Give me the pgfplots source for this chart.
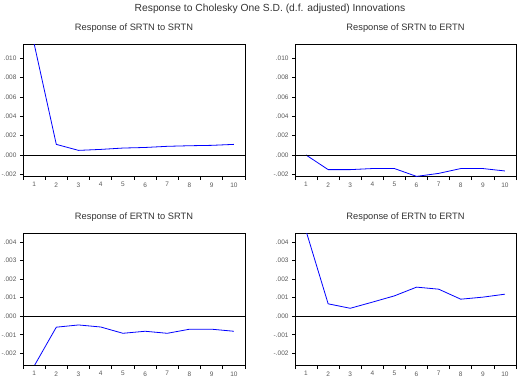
\documentclass[border=0pt]{standalone}
\usepackage{pgfplots}
\pgfplotsset{compat=1.18}
\usepackage{fontspec}
\setmainfont{Liberation Sans}
\definecolor{tickgray}{gray}{0.35}
\definecolor{titlegray}{gray}{0.2}
\pgfplotsset{
 irf/.style={
  scale only axis, width=222bp, height=132bp,
  xmin=0.5, xmax=10.5,
  xtick={1,...,10},
  xticklabels={1,2,3,4,5,6,7,8,9,10},
  minor xtick={0.5,1.5,...,10.5},
  major x tick style={draw=none},
  tick align=outside,
  xtick pos=left, ytick pos=left,
  major tick length=3bp, minor tick length=4bp,
  tick style={black, line width=0.8bp},
  axis line style={black, line width=0.8bp},
  ticklabel style={font=\fontsize{6.5bp}{7bp}\selectfont, text=tickgray},
  /pgf/number format/assume math mode=true,
  scaled y ticks=false,
  clip=true,
 },
 irftop/.style={irf, ymin=-0.00217, ymax=0.01148,
  ytick={-0.002,0,0.002,0.004,0.006,0.008,0.010},
  yticklabels={-.002,.000,.002,.004,.006,.008,.010}},
 irfbot/.style={irf, ymin=-0.00263, ymax=0.00449,
  ytick={-0.002,-0.001,0,0.001,0.002,0.003,0.004},
  yticklabels={-.002,-.001,.000,.001,.002,.003,.004}},
 irfline/.style={blue, line width=0.8bp},
}
\begin{document}
\begin{tikzpicture}
\useasboundingbox (0,0) rectangle (519bp,-379bp);
\node[anchor=base, font=\fontsize{10.3bp}{12bp}\selectfont, text=titlegray] at (270bp,-11bp) {Response to Cholesky One S.D. (d.f. adjusted) Innovations};
\node[anchor=base, font=\fontsize{9.3bp}{11bp}\selectfont, text=titlegray] at (134bp,-30bp) {Response of SRTN to SRTN};
\node[anchor=base, font=\fontsize{9.3bp}{11bp}\selectfont, text=titlegray] at (405.5bp,-30bp) {Response of SRTN to ERTN};
\node[anchor=base, font=\fontsize{9.3bp}{11bp}\selectfont, text=titlegray] at (134bp,-219.5bp) {Response of ERTN to SRTN};
\node[anchor=base, font=\fontsize{9.3bp}{11bp}\selectfont, text=titlegray] at (405.5bp,-219.5bp) {Response of ERTN to ERTN};

\begin{axis}[irftop, at={(23bp,-44bp)}, anchor=north west]
\addplot[irfline] coordinates {(1,0.01152) (2,0.0011) (3,0.00048) (4,0.00058) (5,0.00072) (6,0.00078) (7,0.0009) (8,0.00096) (9,0.001) (10,0.0011)};
\draw[black, line width=0.8bp] (axis cs:0.5,0) -- (axis cs:10.5,0);
\end{axis}

\begin{axis}[irftop, width=221bp, at={(295bp,-44bp)}, anchor=north west]
\addplot[irfline] coordinates {(1,0) (2,-0.00151) (3,-0.00151) (4,-0.0014) (5,-0.0014) (6,-0.00221) (7,-0.0019) (8,-0.0014) (9,-0.0014) (10,-0.00165)};
\draw[black, line width=0.8bp] (axis cs:0.5,0) -- (axis cs:10.5,0);
\end{axis}

\begin{axis}[irfbot, at={(23bp,-233bp)}, anchor=north west]
\addplot[irfline] coordinates {(1,-0.00269) (2,-0.00059) (3,-0.00047) (4,-0.00058) (5,-0.00092) (6,-0.00081) (7,-0.00092) (8,-0.0007) (9,-0.0007) (10,-0.00081)};
\draw[black, line width=0.8bp] (axis cs:0.5,0) -- (axis cs:10.5,0);
\end{axis}

\begin{axis}[irfbot, width=221bp, at={(295bp,-233bp)}, anchor=north west]
\addplot[irfline] coordinates {(1,0.0046) (2,0.00067) (3,0.00043) (4,0.00076) (5,0.0011) (6,0.00157) (7,0.00146) (8,0.00092) (9,0.00103) (10,0.00119)};
\draw[black, line width=0.8bp] (axis cs:0.5,0) -- (axis cs:10.5,0);
\end{axis}
\end{tikzpicture}
\end{document}
